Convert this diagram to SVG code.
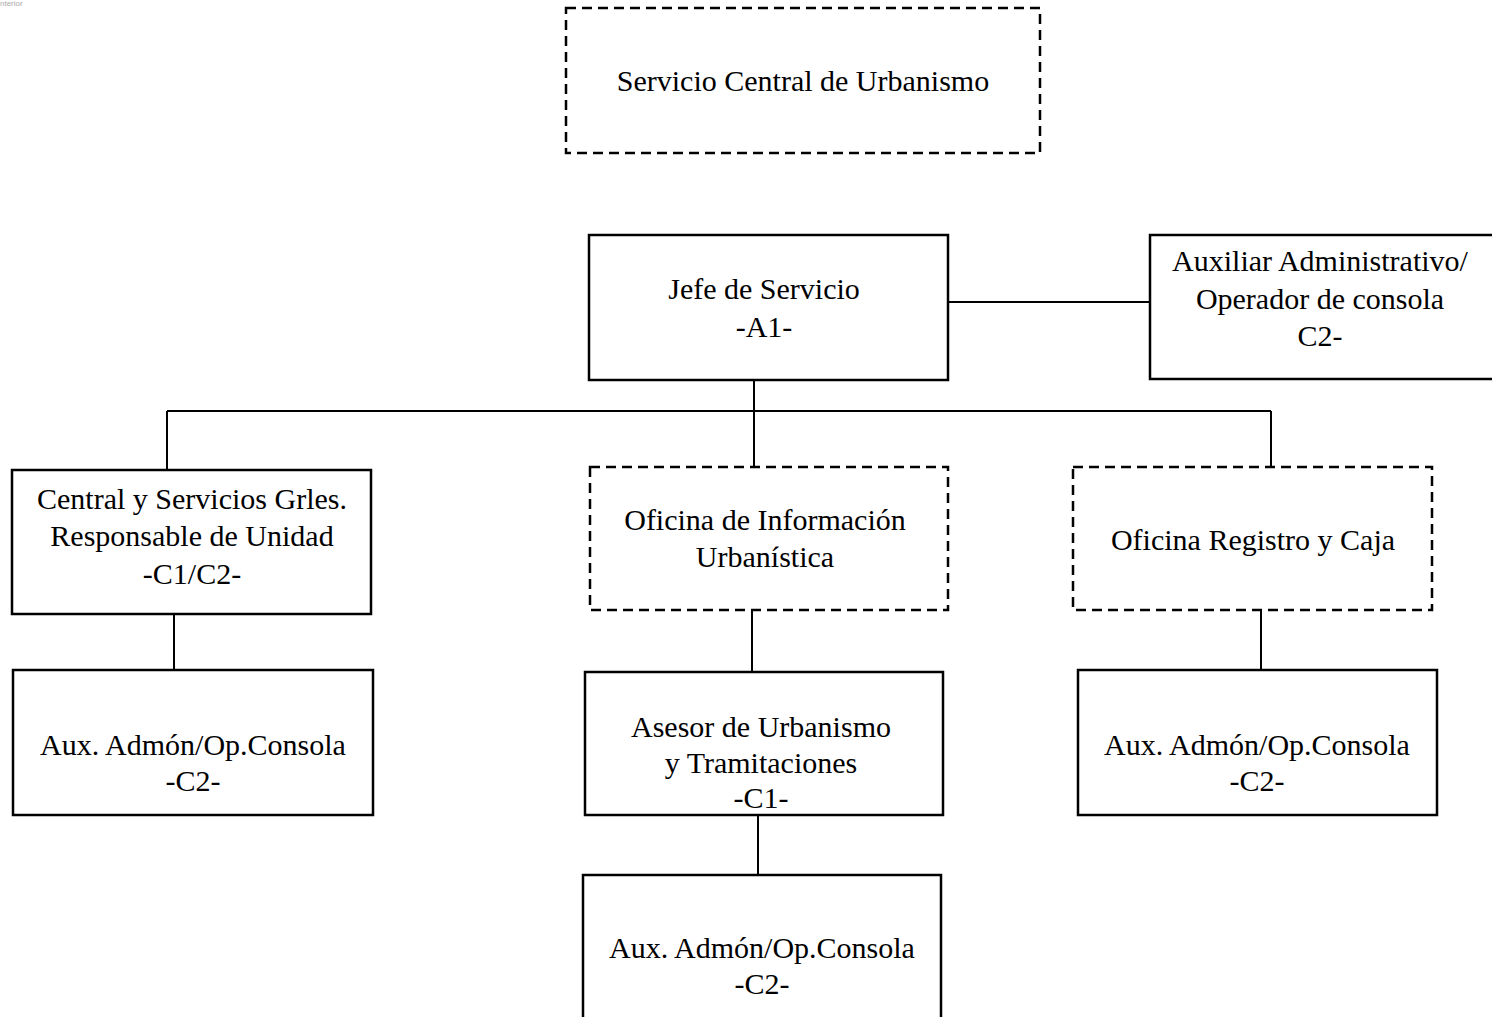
<svg xmlns="http://www.w3.org/2000/svg" width="1492" height="1017" viewBox="0 0 1492 1017">
<style>
.box{fill:#fff;stroke:#000;stroke-width:2.5}
.dash{fill:#fff;stroke:#000;stroke-width:2.5;stroke-dasharray:10 6}
.ln{stroke:#000;stroke-width:2;fill:none}
text{font-family:"Liberation Serif","Times New Roman",serif;font-size:30px;fill:#000;text-anchor:middle}
.logo{font-family:"Liberation Sans",Arial,sans-serif;font-size:8px;fill:#aaa;text-anchor:start}
</style>
<rect width="1492" height="1017" fill="#fff"/>
<text class="logo" x="0" y="6">nterior</text>
<g id="connectors">
<line class="ln" x1="948" y1="302" x2="1150" y2="302"/>
<line class="ln" x1="754" y1="380" x2="754" y2="467"/>
<line class="ln" x1="167" y1="411" x2="1271" y2="411"/>
<line class="ln" x1="167" y1="411" x2="167" y2="470"/>
<line class="ln" x1="1271" y1="411" x2="1271" y2="467"/>
<line class="ln" x1="174" y1="614" x2="174" y2="670"/>
<line class="ln" x1="752" y1="610" x2="752" y2="672"/>
<line class="ln" x1="758" y1="815" x2="758" y2="875"/>
<line class="ln" x1="1261" y1="610" x2="1261" y2="670"/>
</g>
<g id="servicio-central">
<rect class="dash" x="566" y="8" width="474" height="145"/>
<text x="803" y="91">Servicio Central de Urbanismo</text>
</g>
<g id="jefe-servicio">
<rect class="box" x="589" y="235" width="359" height="145"/>
<text x="764" y="299">Jefe de Servicio</text>
<text x="764" y="337">-A1-</text>
</g>
<g id="auxiliar-administrativo">
<rect class="box" x="1150" y="235" width="350" height="144"/>
<text x="1320" y="271">Auxiliar Administrativo/</text>
<text x="1320" y="309">Operador de consola</text>
<text x="1320" y="346">C2-</text>
</g>
<g id="central-servicios">
<rect class="box" x="12" y="470" width="359" height="144"/>
<text x="192" y="509">Central y Servicios Grles.</text>
<text x="192" y="546">Responsable de Unidad</text>
<text x="192" y="584">-C1/C2-</text>
</g>
<g id="oficina-informacion">
<rect class="dash" x="590" y="467" width="358" height="143"/>
<text x="765" y="530">Oficina de Información</text>
<text x="765" y="567">Urbanística</text>
</g>
<g id="oficina-registro">
<rect class="dash" x="1073" y="467" width="359" height="143"/>
<text x="1253" y="550">Oficina Registro y Caja</text>
</g>
<g id="aux-central">
<rect class="box" x="13" y="670" width="360" height="145"/>
<text x="193" y="755">Aux. Admón/Op.Consola</text>
<text x="193" y="791">-C2-</text>
</g>
<g id="asesor-urbanismo">
<rect class="box" x="585" y="672" width="358" height="143"/>
<text x="761" y="737">Asesor de Urbanismo</text>
<text x="761" y="773">y Tramitaciones</text>
<text x="761" y="808">-C1-</text>
</g>
<g id="aux-asesor">
<rect class="box" x="583" y="875" width="358" height="160"/>
<text x="762" y="958">Aux. Admón/Op.Consola</text>
<text x="762" y="994">-C2-</text>
</g>
<g id="aux-registro">
<rect class="box" x="1078" y="670" width="359" height="145"/>
<text x="1257" y="755">Aux. Admón/Op.Consola</text>
<text x="1257" y="791">-C2-</text>
</g>
</svg>
